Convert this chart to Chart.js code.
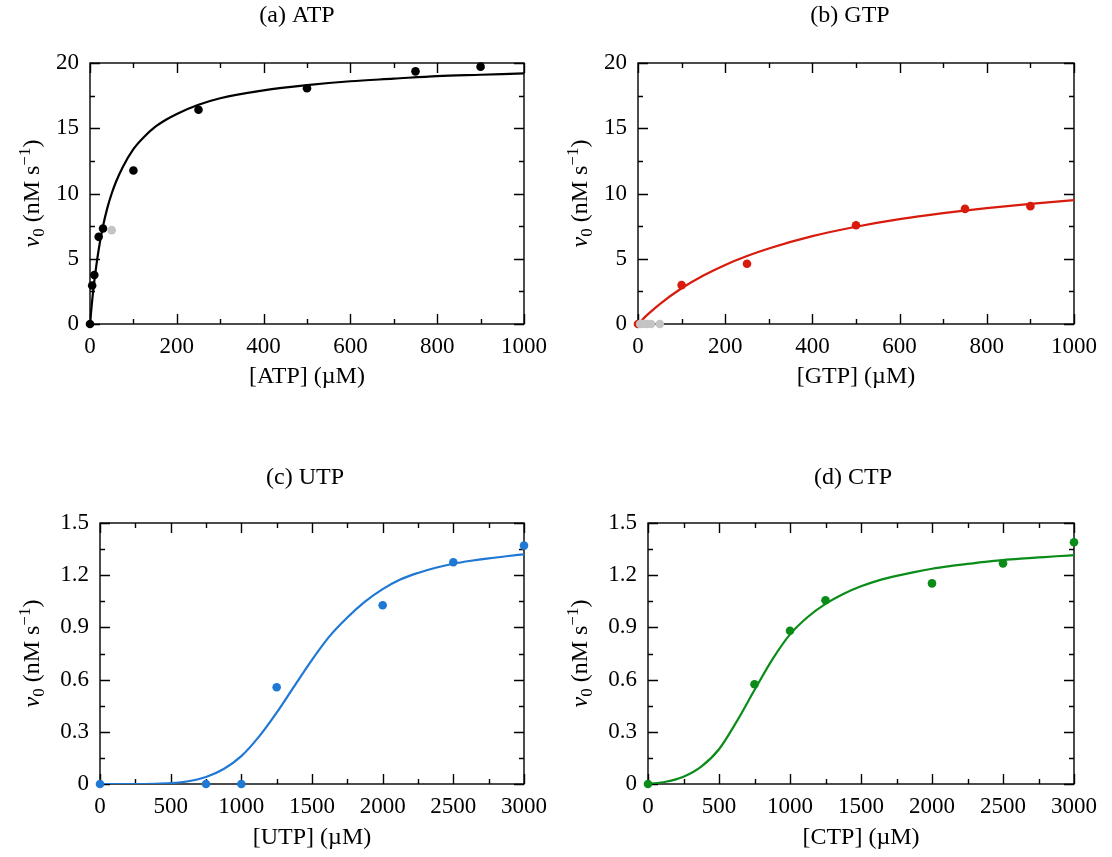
<!DOCTYPE html>
<html>
<head>
<meta charset="utf-8">
<script src="https://cdn.jsdelivr.net/npm/chart.js@4"></script>
<style>
  body { margin: 0; background: #fff; }
  #figure { position: relative; width: 1112px; height: 857px; }
  .panel { position: absolute; }
</style>
</head>
<body>
<div id="figure">
  <div class="panel" style="left:0;top:0;width:556px;height:428px"><canvas id="chartA"></canvas></div>
  <div class="panel" style="left:556px;top:0;width:556px;height:428px"><canvas id="chartB"></canvas></div>
  <div class="panel" style="left:0;top:428px;width:556px;height:429px"><canvas id="chartC"></canvas></div>
  <div class="panel" style="left:556px;top:428px;width:556px;height:429px"><canvas id="chartD"></canvas></div>
</div>
<script>
// measured points (uM, nM/s)
const atpConc = [0, 5, 10, 20, 30, 100, 250, 500, 750, 900];
const atpRate = [0, 2.95, 3.75, 6.68, 7.32, 11.76, 16.42, 18.06, 19.36, 19.72];
const atpExcludedConc = [50];
const atpExcludedRate = [7.19];

const gtpConc = [0, 100, 250, 500, 750, 900];
const gtpRate = [0, 2.98, 4.62, 7.57, 8.82, 9.03];
const gtpExcludedConc = [5, 10, 20, 30, 50];
const gtpExcludedRate = [0, 0, 0, 0, 0];

const utpConc = [0, 750, 1000, 1250, 2000, 2500, 3000];
const utpRate = [0, 0, 0, 0.556, 1.027, 1.274, 1.370];

const ctpConc = [0, 750, 1000, 1250, 2000, 2500, 3000];
const ctpRate = [0, 0.573, 0.881, 1.056, 1.153, 1.268, 1.389];

// fitted curves
const atpFitConc = [0, 5, 10, 20, 30, 40, 50, 60, 75, 100, 125, 150, 175, 200, 250, 300, 400, 500, 600, 700, 800, 900, 1000];
const atpFitRate = [0, 1.8, 3.3, 5.7, 7.5, 8.9, 10.0, 10.9, 12.0, 13.4, 14.35, 15.1, 15.65, 16.1, 16.8, 17.3, 17.9, 18.3, 18.6, 18.8, 19.0, 19.1, 19.2];

const gtpFitConc = [0, 25, 50, 100, 150, 200, 250, 300, 400, 500, 600, 700, 800, 900, 1000];
const gtpFitRate = [0, 0.81, 1.53, 2.74, 3.72, 4.53, 5.21, 5.79, 6.73, 7.45, 8.03, 8.49, 8.88, 9.21, 9.49];

const utpFitConc = [0, 125, 250, 375, 500, 625, 750, 875, 1000, 1125, 1250, 1375, 1500, 1625, 1750, 1875, 2000,
                    2125, 2250, 2375, 2500, 2625, 2750, 2875, 3000];
const utpFitRate = [0, 0, 0, 0.001, 0.005, 0.016, 0.04, 0.086, 0.16, 0.272, 0.41, 0.563, 0.714, 0.85, 0.957, 1.048, 1.12,
                    1.175, 1.213, 1.243, 1.266, 1.283, 1.297, 1.309, 1.32];

const ctpFitConc = [0, 125, 250, 375, 500, 625, 750, 875, 1000, 1125, 1250, 1375, 1500, 1625, 1750, 1875, 2000,
                    2125, 2250, 2375, 2500, 2625, 2750, 2875, 3000];
const ctpFitRate = [0, 0.013, 0.042, 0.1, 0.2, 0.36, 0.54, 0.715, 0.86, 0.96, 1.035, 1.092, 1.136, 1.17, 1.196, 1.218, 1.237,
                    1.252, 1.265, 1.277, 1.287, 1.295, 1.302, 1.309, 1.315];

// axis ticks
const xTicksTop = [0, 200, 400, 600, 800, 1000];
const yTicksTop = [0, 5, 10, 15, 20];
const xTicksBottom = [0, 500, 1000, 1500, 2000, 2500, 3000];
const yTicksBottom = [0, 0.3, 0.6, 0.9, 1.2, 1.5];

const FONT = '"Liberation Serif", "DejaVu Serif", serif';
Chart.defaults.font.family = FONT;
Chart.defaults.font.size = 23;
Chart.defaults.color = '#000';

const zip = (xs, ys) => xs.map((x, i) => ({ x: x, y: ys[i] }));

// frame with inward major/minor ticks on all four sides, panel title and y title
const panelDecor = {
  id: 'panelDecor',
  beforeDatasetsDraw(chart, args, opts) {
    const { ctx, chartArea: a, scales: { x, y } } = chart;
    ctx.save();
    ctx.strokeStyle = '#000';
    ctx.lineWidth = 1.4;
    ctx.strokeRect(a.left, a.top, a.right - a.left, a.bottom - a.top);
    ctx.beginPath();
    const major = 10, minor = 5;
    const xs = x.ticks.map(t => t.value);
    xs.forEach((v, i) => {
      const marks = [[v, major]];
      if (i > 0) marks.push([(v + xs[i - 1]) / 2, minor]);
      marks.forEach(([val, len]) => {
        const px = Math.round(x.getPixelForValue(val)) + 0.5;
        ctx.moveTo(px, a.bottom); ctx.lineTo(px, a.bottom - len);
        ctx.moveTo(px, a.top); ctx.lineTo(px, a.top + len);
      });
    });
    const ys = y.ticks.map(t => t.value);
    ys.forEach((v, i) => {
      const marks = [[v, major]];
      if (i > 0) marks.push([(v + ys[i - 1]) / 2, minor]);
      marks.forEach(([val, len]) => {
        const py = Math.round(y.getPixelForValue(val)) + 0.5;
        ctx.moveTo(a.left, py); ctx.lineTo(a.left + len, py);
        ctx.moveTo(a.right, py); ctx.lineTo(a.right - len, py);
      });
    });
    ctx.stroke();
    ctx.restore();
  },
  afterDraw(chart, args, opts) {
    const { ctx, chartArea: a } = chart;
    ctx.save();
    ctx.fillStyle = '#000';
    ctx.font = '24px ' + FONT;
    ctx.textAlign = 'center';
    ctx.textBaseline = 'middle';
    ctx.fillText(opts.title, opts.titleX, opts.titleY);

    // v0 (nM s^-1), rotated
    const parts = [
      { text: 'v', font: 'italic 24px ' + FONT, dy: 0 },
      { text: '0', font: '17px ' + FONT, dy: 5 },
      { text: ' (nM s', font: '24px ' + FONT, dy: 0 },
      { text: '\u22121', font: '17px ' + FONT, dy: -9 },
      { text: ')', font: '24px ' + FONT, dy: 0 }
    ];
    let total = 0;
    parts.forEach(p => { ctx.font = p.font; p.w = ctx.measureText(p.text).width; total += p.w; });
    ctx.translate(opts.yTitleX, (a.top + a.bottom) / 2);
    ctx.rotate(-Math.PI / 2);
    ctx.textAlign = 'left';
    ctx.textBaseline = 'alphabetic';
    let cx = -total / 2;
    parts.forEach(p => {
      ctx.font = p.font;
      ctx.fillText(p.text, cx, 8 + p.dy);
      cx += p.w;
    });
    ctx.restore();
  }
};

function makePanel(id, cfg) {
  const datasets = [];
  if (cfg.excluded) {
    datasets.push({
      label: 'excluded',
      data: zip(cfg.excluded[0], cfg.excluded[1]),
      pointRadius: 4.3,
      pointBackgroundColor: '#c4c4c4',
      pointBorderWidth: 0,
      showLine: false,
      clip: false
    });
  }
  datasets.push({
    label: 'data',
    data: zip(cfg.points[0], cfg.points[1]),
    pointRadius: 4.3,
    pointBackgroundColor: cfg.color,
    pointBorderWidth: 0,
    showLine: false,
    clip: false
  });
  datasets.push({
    label: 'fit',
    data: zip(cfg.fit[0], cfg.fit[1]),
    showLine: true,
    pointRadius: 0,
    borderColor: cfg.color,
    borderWidth: 2.2,
    cubicInterpolationMode: 'monotone'
  });

  return new Chart(document.getElementById(id), {
    type: 'scatter',
    data: { datasets: datasets },
    options: {
      responsive: true,
      maintainAspectRatio: false,
      animation: false,
      events: [],
      layout: { padding: cfg.padding },
      plugins: {
        legend: { display: false },
        tooltip: { enabled: false },
        panelDecor: { title: cfg.title, titleX: cfg.titleX, titleY: cfg.titleY, yTitleX: cfg.yTitleX }
      },
      scales: {
        x: {
          type: 'linear',
          min: cfg.xTicks[0],
          max: cfg.xTicks[cfg.xTicks.length - 1],
          afterBuildTicks: s => { s.ticks = cfg.xTicks.map(v => ({ value: v })); },
          afterFit: s => { s.height = cfg.xHeight; },
          grid: { display: false, drawTicks: false },
          border: { display: false },
          ticks: { padding: 9, maxRotation: 0, autoSkip: false, font: { size: 23 }, callback: v => String(v) },
          title: { display: true, text: cfg.xTitle, font: { size: 24 }, padding: { top: 0, bottom: cfg.xTitlePad } }
        },
        y: {
          type: 'linear',
          min: cfg.yTicks[0],
          max: cfg.yTicks[cfg.yTicks.length - 1],
          afterBuildTicks: s => { s.ticks = cfg.yTicks.map(v => ({ value: v })); },
          afterFit: s => { s.width = cfg.yWidth; },
          grid: { display: false, drawTicks: false },
          border: { display: false },
          ticks: {
            padding: 11,
            autoSkip: false,
            font: { size: 23 },
            callback: v => (cfg.yDecimals && v !== 0) ? v.toFixed(cfg.yDecimals) : String(v)
          }
        }
      }
    },
    plugins: [panelDecor]
  });
}

makePanel('chartA', {
  title: '(a) ATP', titleX: 297, titleY: 16, yTitleX: 31,
  points: [atpConc, atpRate], excluded: [atpExcludedConc, atpExcludedRate], fit: [atpFitConc, atpFitRate],
  color: '#000000', xTicks: xTicksTop, yTicks: yTicksTop, yDecimals: 0,
  xTitle: '[ATP] (\u00b5M)', xTitlePad: 37,
  padding: { left: 0, right: 30, top: 63, bottom: 0 }, yWidth: 90, xHeight: 104
});

makePanel('chartB', {
  title: '(b) GTP', titleX: 294, titleY: 16, yTitleX: 23,
  points: [gtpConc, gtpRate], excluded: [gtpExcludedConc, gtpExcludedRate], fit: [gtpFitConc, gtpFitRate],
  color: '#d81b0c', xTicks: xTicksTop, yTicks: yTicksTop, yDecimals: 0,
  xTitle: '[GTP] (\u00b5M)', xTitlePad: 37,
  padding: { left: 0, right: 38, top: 63, bottom: 0 }, yWidth: 82, xHeight: 104
});

makePanel('chartC', {
  title: '(c) UTP', titleX: 305, titleY: 50, yTitleX: 31,
  points: [utpConc, utpRate], fit: [utpFitConc, utpFitRate],
  color: '#1f78d4', xTicks: xTicksBottom, yTicks: yTicksBottom, yDecimals: 1,
  xTitle: '[UTP] (\u00b5M)', xTitlePad: 5,
  padding: { left: 0, right: 30, top: 95, bottom: 0 }, yWidth: 100, xHeight: 73
});

makePanel('chartD', {
  title: '(d) CTP', titleX: 297, titleY: 50, yTitleX: 23,
  points: [ctpConc, ctpRate], fit: [ctpFitConc, ctpFitRate],
  color: '#0a8c18', xTicks: xTicksBottom, yTicks: yTicksBottom, yDecimals: 1,
  xTitle: '[CTP] (\u00b5M)', xTitlePad: 5,
  padding: { left: 0, right: 38, top: 95, bottom: 0 }, yWidth: 92, xHeight: 73
});
</script>
</body>
</html>
